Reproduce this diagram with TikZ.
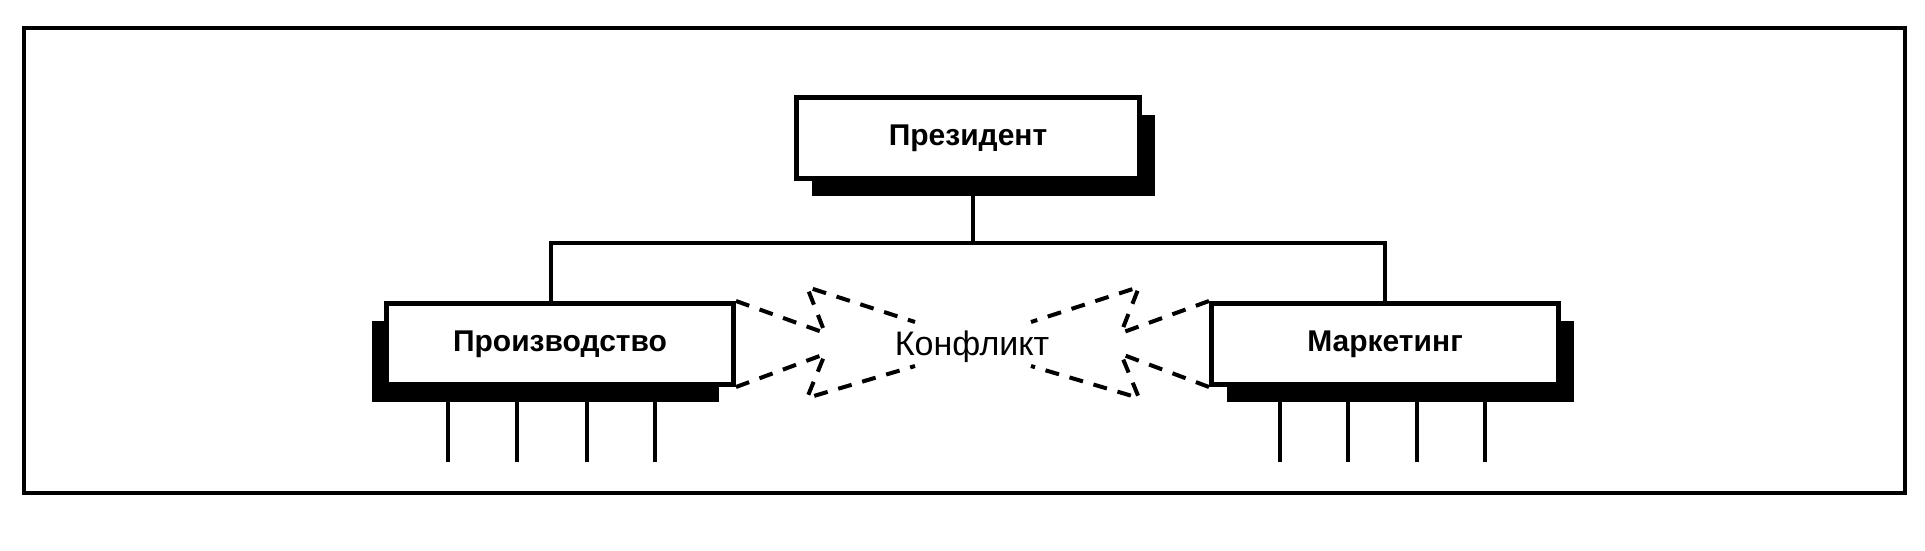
\documentclass[tikz,border=0pt]{standalone}
\usepackage{fontspec}
\setmainfont{Liberation Sans}
\usetikzlibrary{shadows}
\begin{document}
\begin{tikzpicture}[x=1pt,y=-1pt,
  orgbox/.style={draw=black, line width=5pt, fill=white, minimum width=343pt, minimum height=81pt,
    inner sep=0pt, font=\fontsize{30}{36}\selectfont\bfseries},
  shadowR/.style={drop shadow={shadow xshift=15pt, shadow yshift=-17pt, fill=black, opacity=1}},
  shadowL/.style={drop shadow={shadow xshift=-15pt, shadow yshift=-17pt, fill=black, opacity=1}},
  link/.style={line width=3.5pt},
  burst/.style={line width=4pt, dash pattern=on 14pt off 11pt, line join=miter},
  frame/.style={line width=4.5pt}]
\useasboundingbox (0,0) rectangle (1925,550);
\draw[frame] (24,28) rectangle (1905,493);
% stems (partly hidden under the boxes)
\foreach \x in {448,517,587,655} \draw[link] (\x,390) -- (\x,462);
\foreach \x in {1280,1348,1417,1485} \draw[link] (\x,390) -- (\x,462);
% boxes
\node[orgbox, shadowR] (P) at (968,138) {Президент};
\node[orgbox, shadowL, minimum width=347pt] (Pr) at (560,344) {Производство};
\node[orgbox, shadowR, minimum width=347pt] (Mk) at (1385,344) {Маркетинг};
\node[font=\fontsize{34}{40}\selectfont, inner sep=0pt] (K) at (972,347) {Конфликт};
% hierarchy lines
\coordinate (j) at (973,243);
\coordinate (hl) at (551,243);
\coordinate (hr) at (1385,243);
\draw[link] (P.south -| j) -- (j);
\draw[link] (Pr.north -| hl) -- (hl) -- (hr) -- (Mk.north -| hr);
% conflict arrows (dashed outlines)
\coordinate (LnU) at (825,333); \coordinate (LbU) at (807,287); \coordinate (LtU) at (915,322);
\coordinate (LnD) at (825,354); \coordinate (LbD) at (807,398); \coordinate (LtD) at (915,366);
\coordinate (RnU) at (1121,333); \coordinate (RbU) at (1139,287); \coordinate (RtU) at (1031,322);
\coordinate (RnD) at (1121,354); \coordinate (RbD) at (1139,398); \coordinate (RtD) at (1031,366);
\draw[burst] (Pr.north east) -- (LnU) -- (LbU) -- (LtU);
\draw[burst] (Pr.south east) -- (LnD) -- (LbD) -- (LtD);
\draw[burst] (Mk.north west) -- (RnU) -- (RbU) -- (RtU);
\draw[burst] (Mk.south west) -- (RnD) -- (RbD) -- (RtD);
\end{tikzpicture}
\end{document}
